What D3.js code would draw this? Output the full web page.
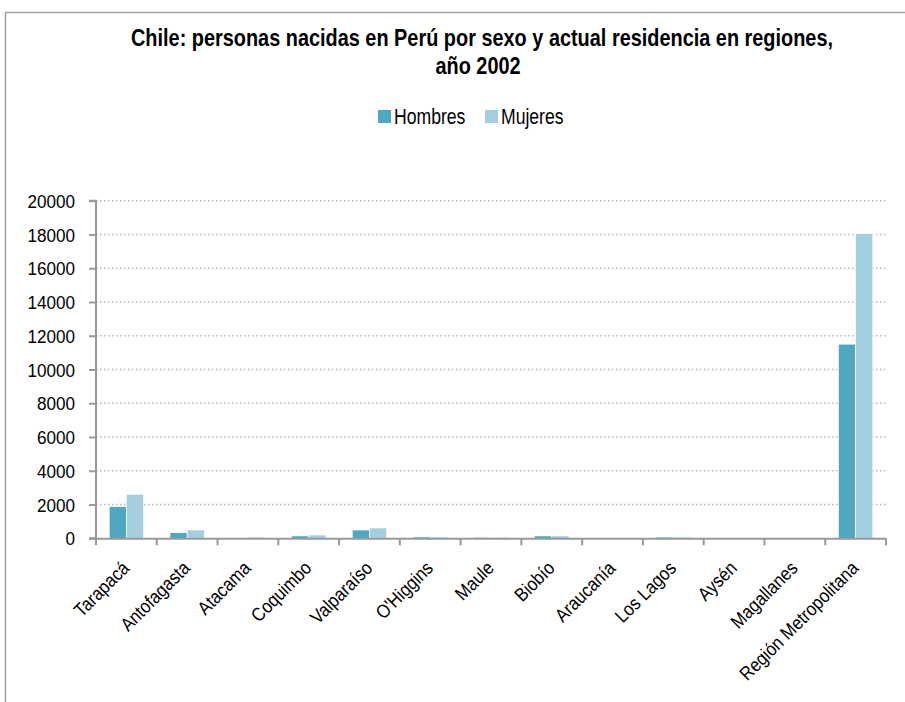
<!DOCTYPE html>
<html><head><meta charset="utf-8">
<script src="https://cdn.jsdelivr.net/npm/d3@7/dist/d3.min.js"></script>
<style>
body{margin:0;background:#fff;}
text{font-family:"Liberation Sans",Arial,sans-serif;}
</style></head><body>
<svg id="c" width="905" height="702"></svg>
<script>
const categories = ["Tarapacá","Antofagasta","Atacama","Coquimbo","Valparaíso","O'Higgins","Maule","Biobío","Araucanía","Los Lagos","Aysén","Magallanes","Región Metropolitana"];
const hombres = [1870, 330, 20, 140, 490, 80, 60, 140, 10, 70, 5, 5, 11500];
const mujeres = [2610, 490, 70, 195, 610, 80, 60, 140, 10, 70, 5, 5, 18050];
const seriesNames = ["Hombres","Mujeres"];
const colors = ["#4FA8C0","#A3CFDF"];
const yTicks = [0,2000,4000,6000,8000,10000,12000,14000,16000,18000,20000];

const svg = d3.select("#c");
// frame
svg.append("path").attr("d","M5.5,710 V12.5 H910").attr("fill","none").attr("stroke","#a0a0a0").attr("stroke-width",1.5);

const L=96, R=886, T=200.7, B=538.3;
const x = d3.scaleBand().domain(categories).range([L,R]).paddingInner(0).paddingOuter(0);
const x1 = d3.scaleBand().domain(seriesNames).range([0,x.bandwidth()]).paddingInner(0).paddingOuter(0.77);
const y = d3.scaleLinear().domain([0,20000]).range([B,T]);

// gridlines
svg.append("g").selectAll("line").data(yTicks.slice(1)).join("line")
  .attr("x1",L).attr("x2",R).attr("y1",d=>y(d)).attr("y2",d=>y(d))
  .attr("stroke","#b8b8b8").attr("stroke-width",1.5).attr("stroke-dasharray","1.5,2.5");

// bars
const data = categories.map((c,i)=>({c, vals:[hombres[i],mujeres[i]]}));
const g = svg.append("g").selectAll("g").data(data).join("g").attr("transform",d=>`translate(${x(d.c)},0)`);
g.selectAll("rect").data(d=>d.vals.map((v,j)=>({v,s:seriesNames[j],j}))).join("rect")
  .attr("x",d=>x1(d.s)).attr("width",x1.bandwidth())
  .attr("y",d=>y(d.v)).attr("height",d=>B-y(d.v))
  .attr("fill",d=>colors[d.j]).attr("stroke","#ffffff").attr("stroke-width",0.6);

// y axis
const ya = svg.append("g").attr("transform",`translate(${L},0)`)
  .call(d3.axisLeft(y).tickValues(yTicks).tickSize(7).tickPadding(0).tickFormat(d3.format("d")));
ya.select(".domain").attr("stroke","#999").attr("stroke-width",2).attr("d",`M-7,${T}H0V${B}H-7`);
ya.selectAll(".tick line").attr("stroke","#999").attr("stroke-width",2);
ya.selectAll(".tick text").attr("font-size",19).attr("fill","#000").attr("font-family",null)
  .attr("x",null).attr("dy","0.35em").attr("transform","translate(-21,0) scale(0.9,1)");

// x axis
const xa = svg.append("g").attr("transform",`translate(0,${B})`)
  .call(d3.axisBottom(x).tickSize(0).tickFormat(""));
xa.select(".domain").attr("stroke","#999").attr("stroke-width",2);
xa.selectAll(".tick").remove();
const bounds = [L, ...categories.map(c=>x(c)+x.bandwidth())];
xa.selectAll("line.b").data(bounds).join("line").attr("class","b")
  .attr("x1",d=>d).attr("x2",d=>d).attr("y1",0).attr("y2",7).attr("stroke","#999").attr("stroke-width",2);
xa.selectAll("text.lab").data(categories).join("text").attr("class","lab")
  .attr("transform",d=>`translate(${x(d)+x.bandwidth()/2+4},${31}) rotate(-45) scale(0.88,1)`)
  .attr("text-anchor","end").attr("font-size",19).attr("fill","#000").text(d=>d);

// title
svg.append("text").attr("transform","translate(482,46) scale(0.865,1)").attr("text-anchor","middle").attr("font-size",23).attr("font-weight","bold")
  .text("Chile: personas nacidas en Perú por sexo y actual residencia en regiones,");
svg.append("text").attr("transform","translate(478,74) scale(0.865,1)").attr("text-anchor","middle").attr("font-size",23).attr("font-weight","bold")
  .text("año 2002");

// legend
const lg = svg.append("g");
const lx = [378, 485];
seriesNames.forEach((s,i)=>{
  lg.append("rect").attr("x",lx[i]).attr("y",110).attr("width",13).attr("height",13).attr("fill",colors[i]);
  lg.append("text").attr("transform",`translate(${lx[i]+16},124) scale(0.8,1)`).attr("font-size",22).attr("fill","#000").text(s);
});
</script></body></html>
